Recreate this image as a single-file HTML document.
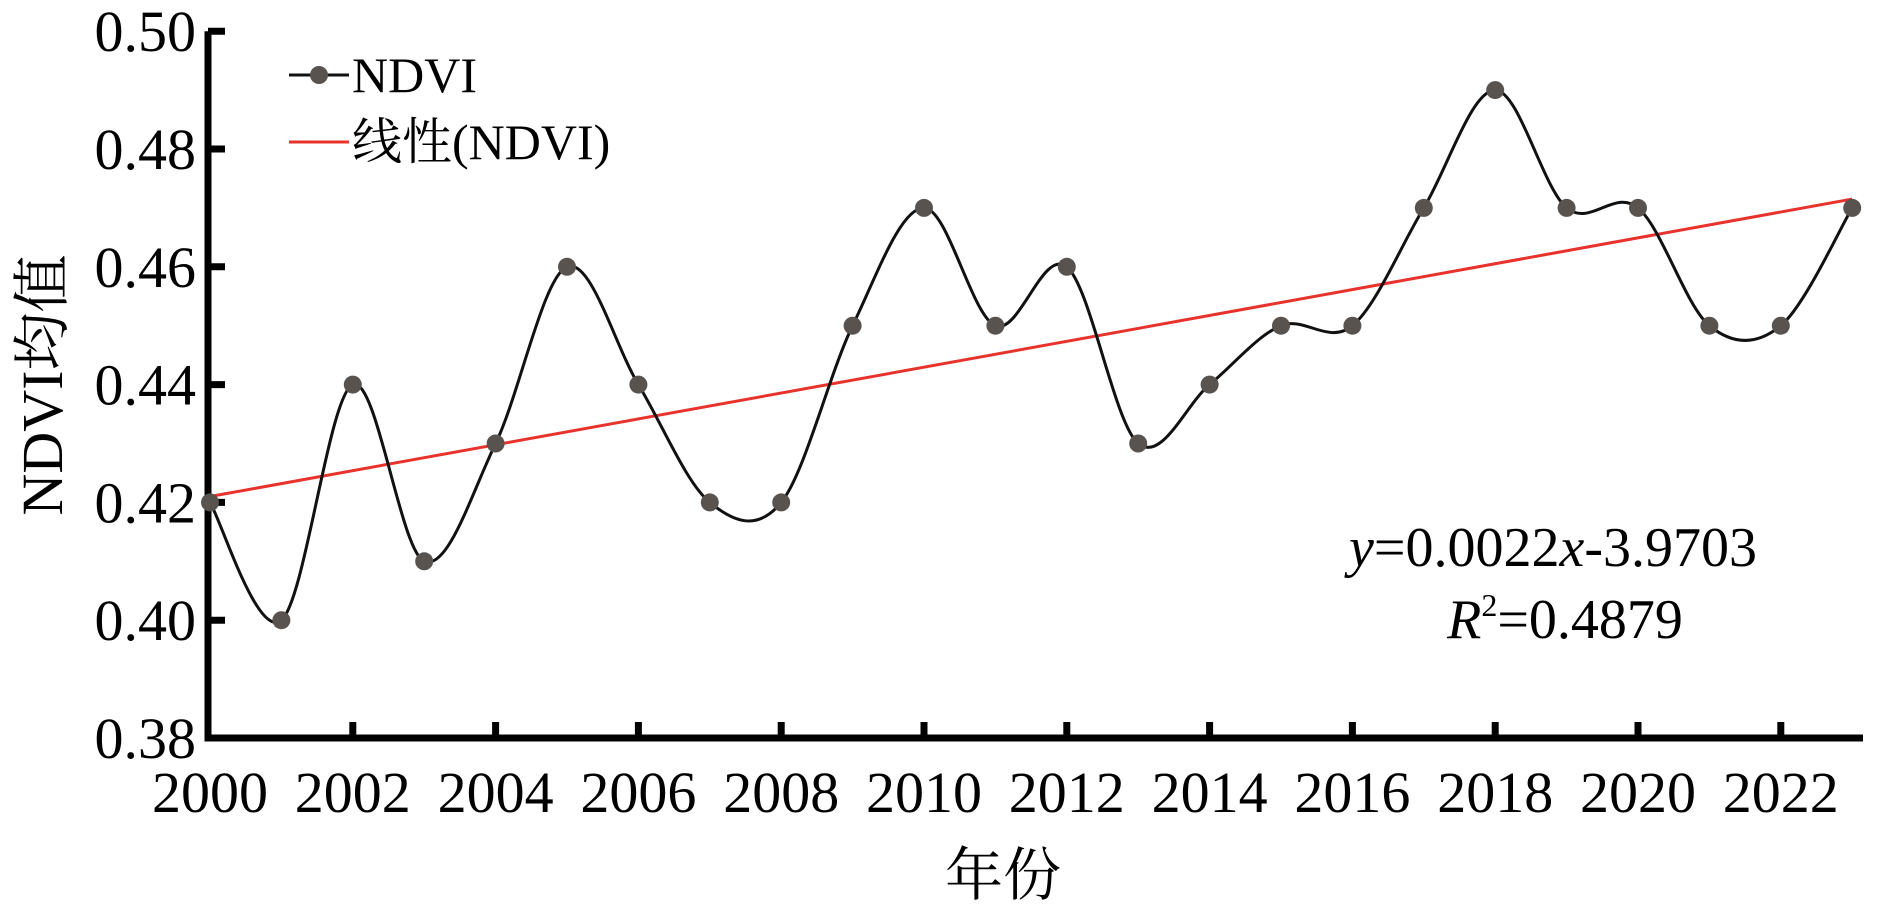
<!DOCTYPE html>
<html><head><meta charset="utf-8"><style>
html,body{margin:0;padding:0;background:#fff;}
svg{display:block;}
text{font-family:"Liberation Serif","Times New Roman","Noto Serif CJK SC",serif;fill:#000;}
</style></head><body>
<svg id="s" width="1878" height="914" viewBox="0 0 1878 914" xmlns="http://www.w3.org/2000/svg" font-family="'Liberation Serif', 'Noto Serif CJK SC', serif">
<g id="ax" stroke="#000" stroke-width="7" fill="none"></g>
<path id="trend" stroke="#e8322c" stroke-width="3" fill="none"/>
<path id="curve" stroke="#111" stroke-width="3" fill="none"/>
<g id="pts" fill="#58534f"></g>
<g id="lbl" font-size="58"></g>
<text x="0" y="0" font-size="58" text-anchor="middle" transform="translate(62,385) rotate(-90)">NDVI均值</text>
<text x="1003" y="895" font-size="58" text-anchor="middle">年份</text>
<line x1="289" y1="75" x2="349" y2="75" stroke="#111" stroke-width="3"/>
<circle cx="319" cy="75" r="9" fill="#58534f"/>
<text x="352" y="92" font-size="50">NDVI</text>
<line x1="289" y1="142" x2="349" y2="142" stroke="#e8322c" stroke-width="3"/>
<text x="352" y="159" font-size="50">线性(NDVI)</text>
<text x="1553" y="566" font-size="56" text-anchor="middle"><tspan font-style="italic">y</tspan>=0.0022<tspan font-style="italic">x</tspan>-3.9703</text>
<text x="1565" y="638" font-size="56" text-anchor="middle"><tspan font-style="italic">R</tspan><tspan font-size="32" dy="-22">2</tspan><tspan dy="22">=0.4879</tspan></text>
</svg>
<script>
var X0=210,DX=71.4,Y0=738,DY=117.8/0.02;
function px(i){return X0+i*DX;}function py(v){return Y0-(v-0.38)*DY;}
var d=[.42,.40,.44,.41,.43,.46,.44,.42,.42,.45,.47,.45,.46,.43,.44,.45,.45,.47,.49,.47,.47,.45,.45,.47];
var ns="http://www.w3.org/2000/svg";
function el(t,a,p){var e=document.createElementNS(ns,t);for(var k in a)e.setAttribute(k,a[k]);p.appendChild(e);return e;}
var ax=document.getElementById('ax'),lbl=document.getElementById('lbl');
el('path',{d:'M208,'+(py(0.5))+' L208,738 L1863,738'},ax);
for(var k=0;k<=6;k++){var v=0.38+k*0.02,y=py(v);
 if(k>0)el('line',{x1:208,y1:y,x2:225,y2:y},ax);
 var t=el('text',{x:196,y:y+20,'text-anchor':'end'},lbl);t.textContent=v.toFixed(2);}
for(var i=0;i<=22;i+=2){var x=px(i);
 if(i>0)el('line',{x1:x,y1:738,x2:x,y2:722},ax);
 var t=el('text',{x:x,y:812,'text-anchor':'middle'},lbl);t.textContent=2000+i;}
var P=d.map(function(v,i){return [px(i),py(v)];});
var s='M'+P[0][0]+','+P[0][1];
for(var i=0;i<P.length-1;i++){var p0=P[i-1]||P[i],p1=P[i],p2=P[i+1],p3=P[i+2]||P[i+1];
 s+=' C'+(p1[0]+(p2[0]-p0[0])/6)+','+(p1[1]+(p2[1]-p0[1])/6)+' '+(p2[0]-(p3[0]-p1[0])/6)+','+(p2[1]-(p3[1]-p1[1])/6)+' '+p2[0]+','+p2[1];}
document.getElementById('curve').setAttribute('d',s);
document.getElementById('trend').setAttribute('d','M'+px(0)+','+py(0.421)+' L'+px(23)+','+py(0.4715));
var g=document.getElementById('pts');P.forEach(function(p){el('circle',{cx:p[0],cy:p[1],r:9},g);});
</script>
</body></html>
